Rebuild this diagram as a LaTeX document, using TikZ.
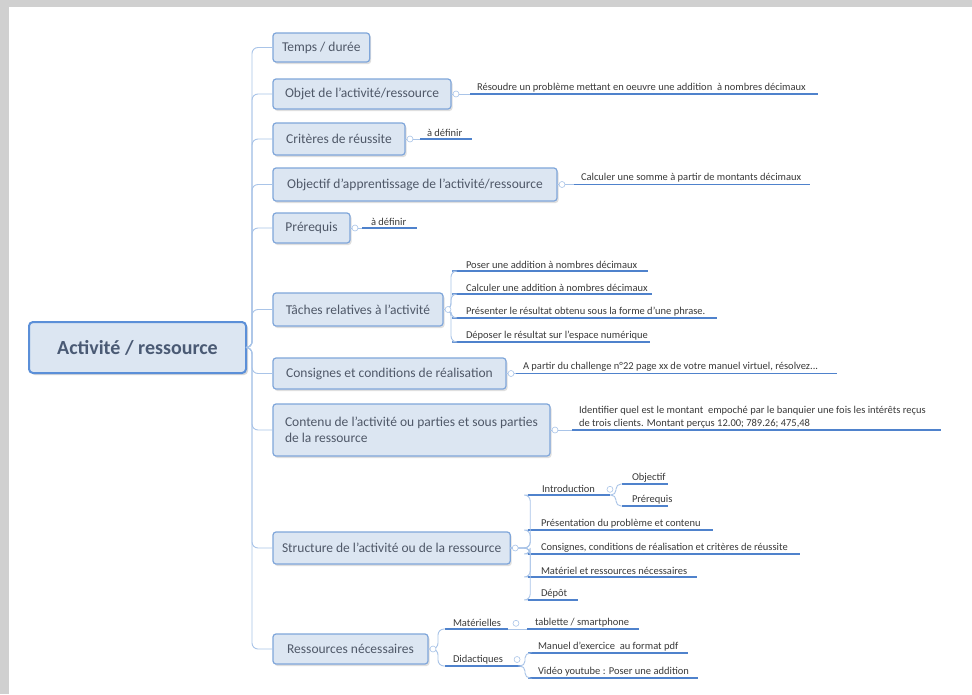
\documentclass[tikz,border=0pt]{standalone}
\usepackage{fontspec}
\setmainfont{Carlito}
\usetikzlibrary{shadows}
\definecolor{boxfill}{HTML}{DCE6F2}
\definecolor{boxline}{HTML}{7FA6DA}
\definecolor{rootline}{HTML}{5B8FD8}
\definecolor{btext}{HTML}{4F5868}
\definecolor{roottext}{HTML}{4A5A74}
\definecolor{conncol}{HTML}{A9C4E8}
\definecolor{ulcol}{HTML}{4F82CC}
\definecolor{ltext}{HTML}{3A3A3A}
\definecolor{bggray}{HTML}{D0D0D0}
\begin{document}
\begin{tikzpicture}[x=1pt,y=-1pt,
  rootbox/.style={draw=rootline, line width=2pt, fill=boxfill, rounded corners=4pt,
    minimum width=217pt, minimum height=51pt, outer sep=0pt,
    font=\fontsize{20}{24}\selectfont\bfseries, text=roottext,
    drop shadow={opacity=0.3, shadow xshift=2pt, shadow yshift=-2pt}},
  branch/.style={draw=boxline, line width=1.2pt, fill=boxfill, rounded corners=3pt,
    anchor=west, minimum height=30pt, inner xsep=9pt, outer sep=0pt,
    font=\fontsize{13.5}{16}\selectfont, text=btext,
    drop shadow={opacity=0.25, shadow xshift=1.5pt, shadow yshift=-2pt}},
  leaf/.style={anchor=south west, inner xsep=7pt, inner ysep=2pt, outer sep=0pt,
    font=\fontsize{10.5}{13}\selectfont, text=ltext,
    append after command={(\tikzlastnode.south west) edge[ul] ([xshift=#1]\tikzlastnode.south west)
      ([xshift=#1]\tikzlastnode.south west) coordinate (\tikzlastnode-e)}},
  ul/.style={draw=ulcol, line width=1.6pt},
  cn/.style={draw=conncol, line width=0.9pt, rounded corners=6pt},
  knob/.style={draw=conncol, line width=0.6pt, fill=white, circle, inner sep=0pt, minimum size=6pt}
]
\useasboundingbox (0,0) rectangle (972,694);
\fill[bggray] (0,0) rectangle (972,694);
\fill[white] (9,7) rectangle (972,694);

% root
\node[rootbox] (root) at (137.5,347.5) {Activité / ressource};

% branches
\node[branch, minimum width=77pt, minimum height=29pt] (b1) at (273,47.5) {Temps / durée};
\node[branch, minimum width=178pt] (b2) at (273,94) {Objet de l'activité/ressource};
\node[branch, minimum width=132pt, minimum height=32pt] (b3) at (273,139) {Critères de réussite};
\node[branch, minimum width=284pt, minimum height=33pt] (b4) at (273,184.5) {Objectif d'apprentissage de l'activité/ressource};
\node[branch, minimum width=77pt] (b5) at (273,228) {Prérequis};
\node[branch, minimum width=170pt, minimum height=33pt] (b6) at (273,309.5) {Tâches relatives à l'activité};
\node[branch, minimum width=233pt, minimum height=31pt] (b7) at (273,373.5) {Consignes et conditions de réalisation};
\node[branch, minimum width=277pt, minimum height=52pt, align=left, inner xsep=10pt] (b8) at (273,430) {Contenu de l'activité ou parties et sous parties\\de la ressource};
\node[branch, minimum width=232pt, minimum height=32pt] (b9) at (273,548) {Structure de l'activité ou de la ressource};
\node[branch, minimum width=155pt] (b10) at (273,649) {Ressources nécessaires};

% trunk connectors
\foreach \b in {b1,b2,b3,b4,b5,b6,b7,b8,b9,b10}
  \draw[cn] (root.east) -- ++(6,0) |- (\b.west);

% single leaves
\node[leaf=348pt] (l2) at (470,94) {Résoudre un problème mettant en oeuvre une addition ~à nombres décimaux};
\node[leaf=52pt] (l3) at (420,139) {à définir};
\node[leaf=236pt] (l4) at (574,184.5) {Calculer une somme à partir de montants décimaux};
\node[leaf=55pt, inner xsep=9pt] (l5) at (362,228) {à définir};
\node[leaf=321pt] (l7) at (516,373.5) {A partir du challenge n°22 page xx de votre manuel virtuel, résolvez...};
\node[leaf=369pt, align=left] (l8) at (572,430) {Identifier quel est le montant ~empoché par le banquier une fois les intérêts reçus\\de trois clients. Montant perçus 12.00; 789.26; 475,48};

\foreach \b/\l in {b2/l2,b3/l3,b4/l4,b5/l5,b7/l7,b8/l8}
  \draw[cn] (\b.east) -- (\l.south west);

% Taches children
\node[leaf=196pt, inner xsep=14pt] (t1) at (452,271) {Poser une addition à nombres décimaux};
\node[leaf=200pt, inner xsep=14pt] (t2) at (452,294) {Calculer une addition à nombres décimaux};
\node[leaf=265pt, inner xsep=14pt] (t3) at (452,318) {Présenter le résultat obtenu sous la forme d'une phrase.};
\node[leaf=198pt, inner xsep=14pt] (t4) at (452,342) {Déposer le résultat sur l'espace numérique};
\foreach \t in {t1,t2,t3,t4}
  \draw[cn] (b6.east) -- ++(8,0) |- (\t.south west);

% Structure children
\node[leaf=82pt, inner xsep=14pt] (s1) at (528,495) {Introduction};
\node[leaf=46pt, inner xsep=10pt] (s1a) at (622,484) {Objectif};
\node[leaf=46pt, inner xsep=10pt] (s1b) at (622,506) {Prérequis};
\node[leaf=185pt, inner xsep=13pt] (s2) at (528,530) {Présentation du problème et contenu};
\node[leaf=272pt, inner xsep=13pt] (s3) at (528,554) {Consignes, conditions de réalisation et critères de réussite};
\node[leaf=169pt, inner xsep=13pt] (s4) at (528,577) {Matériel et ressources nécessaires};
\node[leaf=50pt, inner xsep=13pt] (s5) at (528,600) {Dépôt};
\foreach \s in {s1,s2,s3,s4,s5}
  \draw[cn] (b9.east) -- ++(20,0) |- (\s.south west);
\foreach \s in {s1a,s1b}
  \draw[cn, rounded corners=5pt] (s1-e) -- ++(6,0) |- (\s.south west);

% Ressources children
\node[leaf=63pt, inner xsep=8pt] (r1) at (445,629) {Matérielles};
\node[leaf=77pt, inner xsep=8pt] (r2) at (445,666) {Didactiques};
\node[leaf=112pt, inner xsep=8pt] (r1a) at (527,629) {tablette / smartphone};
\node[leaf=160pt, inner xsep=10pt] (r2a) at (528,653) {Manuel d'exercice ~au format pdf};
\node[leaf=170pt, inner xsep=10pt] (r2b) at (528,678) {Vidéo youtube : Poser une addition};
\foreach \r in {r1,r2}
  \draw[cn] (b10.east) -- ++(10,0) |- (\r.south west);
\draw[cn] (r1-e) -- (r1a.south west);
\foreach \r in {r2a,r2b}
  \draw[cn, rounded corners=5pt] (r2-e) -- ++(3,0) |- (\r.south west);

% knobs
\foreach \b in {b2,b3,b4,b5,b6,b7,b8,b9,b10}
  \node[knob] at ([xshift=5pt]\b.east) {};
\node[knob] at ([xshift=1pt]s1.east) {};
\node[knob] at ([xshift=7pt]r1.east) {};
\node[knob] at ([xshift=6pt]r2.east) {};
\end{tikzpicture}
\end{document}
